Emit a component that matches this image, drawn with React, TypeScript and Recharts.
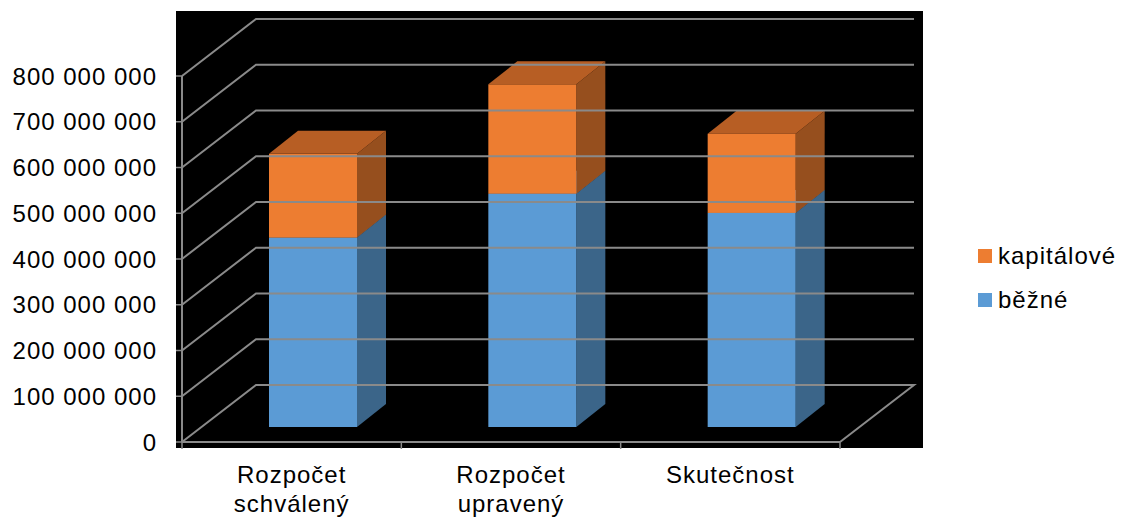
import { BarChart, Bar, XAxis, YAxis, Legend } from "recharts";

// values, in CZK
const categories = ["Rozpočet\nschválený", "Rozpočet\nupravený", "Skutečnost"];
const bezne = [414000000, 510000000, 468000000];
const kapitalove = [183000000, 239000000, 173000000];
const yTicks = [0, 100000000, 200000000, 300000000, 400000000, 500000000, 600000000, 700000000, 800000000];

const data = categories.map((name, i) => ({
  name,
  bezne: bezne[i],
  kapitalove: kapitalove[i],
}));

// layout of the oblique 3D box
const W = 1121;
const H = 517;
const PLOT_LEFT = 182;
const PLOT_RIGHT = 840;
const PLOT_TOP = 76;
const FLOOR_Y = 442;
const WALL_DX = 74; // back wall offset
const WALL_DY = 57;
const BAR_DX = 21; // bars sit inside the depth
const BAR_DY = 15;
const BOX_DX = 29; // depth of a bar
const BOX_DY = 23;
const BAND = (PLOT_RIGHT - PLOT_LEFT) / categories.length;

const GRID = "#8a8a8a";
const FONT = "'Liberation Sans', Arial, sans-serif";

const colors = {
  bezne: { front: "#5b9bd5", side: "#3b6589", top: "#4a80b0" },
  kapitalove: { front: "#ed7d31", side: "#964f1e", top: "#b75e24" },
};

const fmt = (v: number) => String(v).replace(/\B(?=(\d{3})+(?!\d))/g, " ");

function Box3D(props: any) {
  const { x, y, width, height, tone } = props;
  const c = colors[tone as "bezne" | "kapitalove"];
  const fx = x + BAR_DX;
  const fy = y - BAR_DY;
  const bot = fy + height;
  return (
    <g>
      <polygon
        points={`${fx + width},${fy} ${fx + width + BOX_DX},${fy - BOX_DY} ${fx + width + BOX_DX},${bot - BOX_DY} ${fx + width},${bot}`}
        fill={c.side}
      />
      <polygon
        points={`${fx},${fy} ${fx + BOX_DX},${fy - BOX_DY} ${fx + width + BOX_DX},${fy - BOX_DY} ${fx + width},${fy}`}
        fill={c.top}
      />
      <rect x={fx} y={fy} width={width} height={height} fill={c.front} />
    </g>
  );
}

function YTick(props: any) {
  const { y, payload } = props;
  const isZero = payload.value === 0;
  return (
    <g>
      <polyline
        points={`${PLOT_LEFT},${y} ${PLOT_LEFT + WALL_DX},${y - WALL_DY} ${PLOT_RIGHT + WALL_DX},${y - WALL_DY}${
          isZero ? ` ${PLOT_RIGHT},${y}` : ""
        }`}
        fill="none"
        stroke={GRID}
        strokeWidth={2}
      />
      <line x1={PLOT_LEFT - 6} y1={y} x2={PLOT_LEFT} y2={y} stroke={GRID} strokeWidth={1.5} />
      <text
        x={PLOT_LEFT - 25}
        y={y}
        dy="0.36em"
        textAnchor="end"
        fontSize={24}
        letterSpacing={1}
        fontFamily={FONT}
        fill="#000"
      >
        {fmt(payload.value)}
      </text>
    </g>
  );
}

function XTick(props: any) {
  const { x, payload, index } = props;
  const lines = String(payload.value).split("\n");
  const left = x - BAND / 2;
  return (
    <g>
      <line x1={left} y1={FLOOR_Y} x2={left} y2={FLOOR_Y + 7} stroke={GRID} strokeWidth={1.5} />
      {index === categories.length - 1 && (
        <line x1={x + BAND / 2} y1={FLOOR_Y} x2={x + BAND / 2} y2={FLOOR_Y + 7} stroke={GRID} strokeWidth={1.5} />
      )}
      <text textAnchor="middle" fontSize={24} letterSpacing={1} fontFamily={FONT} fill="#000">
        {lines.map((l, i) => (
          <tspan key={i} x={x} y={FLOOR_Y + 41 + i * 29}>
            {l}
          </tspan>
        ))}
      </text>
    </g>
  );
}

function LegendBox() {
  const items = [
    { label: "kapitálové", color: colors.kapitalove.front },
    { label: "běžné", color: colors.bezne.front },
  ];
  return (
    <div style={{ fontFamily: FONT, fontSize: 24, letterSpacing: 1 }}>
      {items.map((it) => (
        <div key={it.label} style={{ display: "flex", alignItems: "center", height: 44 }}>
          <span style={{ width: 14, height: 14, background: it.color, marginRight: 6 }} />
          <span>{it.label}</span>
        </div>
      ))}
    </div>
  );
}

export default function App() {
  return (
    <div style={{ position: "absolute", left: 0, top: 0, width: W, height: H, background: "#fff" }}>
      <div
        style={{
          position: "absolute",
          left: 176,
          top: 11,
          width: 747,
          height: 437,
          background: "#000",
        }}
      />
      <BarChart
        width={W}
        height={H}
        data={data}
        margin={{ top: PLOT_TOP, right: W - PLOT_RIGHT, bottom: 0, left: 0 }}
        barSize={88}
        style={{ position: "absolute", left: 0, top: 0 }}
      >
        <YAxis
          width={PLOT_LEFT}
          domain={[0, 800000000]}
          ticks={yTicks}
          tick={<YTick />}
          tickLine={false}
          axisLine={{ stroke: GRID, strokeWidth: 2 }}
          interval={0}
        />
        <XAxis
          dataKey="name"
          height={H - FLOOR_Y}
          tick={<XTick />}
          tickLine={false}
          axisLine={{ stroke: GRID, strokeWidth: 2 }}
          interval={0}
        />
        <Bar dataKey="bezne" stackId="a" isAnimationActive={false} shape={<Box3D tone="bezne" />} />
        <Bar dataKey="kapitalove" stackId="a" isAnimationActive={false} shape={<Box3D tone="kapitalove" />} />
        <Legend
          layout="vertical"
          align="center"
          verticalAlign="middle"
          content={<LegendBox />}
          wrapperStyle={{ position: "absolute", left: 978, top: 234, width: 140 }}
        />
      </BarChart>
    </div>
  );
}
